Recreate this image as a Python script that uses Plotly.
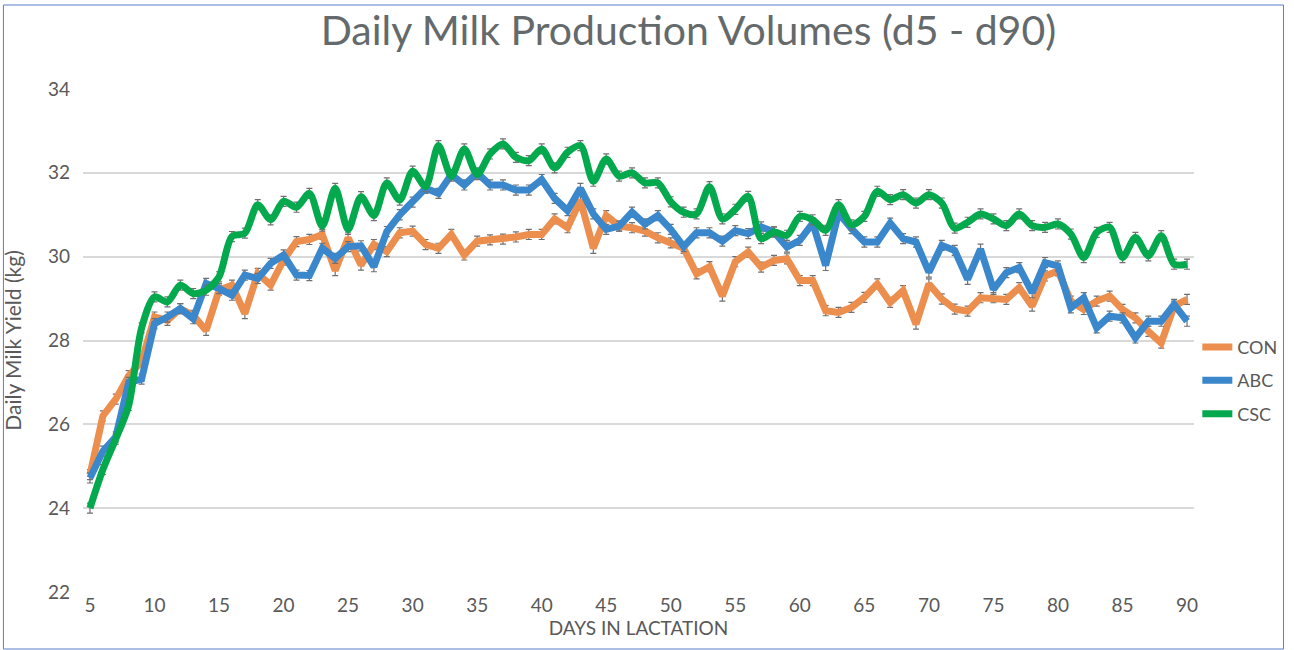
import plotly.graph_objects as go

days = list(range(5, 91))

con = [24.8, 26.2, 26.6, 27.16, 27.5, 28.56, 28.48, 28.76, 28.6, 28.24,
       29.2, 29.32, 28.64, 29.6, 29.32, 29.92, 30.36, 30.41, 30.53, 29.67,
       30.45, 29.8, 30.29, 30.12, 30.57, 30.61, 30.29, 30.2, 30.53, 30.04,
       30.37, 30.4, 30.42, 30.47, 30.53, 30.53, 30.9, 30.69, 31.35, 30.2,
       30.98, 30.73, 30.69, 30.61, 30.45, 30.33, 30.2, 29.59, 29.76, 29.06,
       29.88, 30.11, 29.75, 29.91, 29.95, 29.43, 29.43, 28.71, 28.67, 28.79,
       29.03, 29.35, 28.91, 29.19, 28.39, 29.35, 28.99, 28.75, 28.7, 29.02,
       29.02, 28.98, 29.26, 28.82, 29.54, 29.66, 28.94, 28.74, 28.94, 29.06,
       28.74, 28.54, 28.22, 27.94, 28.82, 28.98]

abc = [24.72, 25.36, 25.7, 27.0, 27.08, 28.4, 28.56, 28.76, 28.52, 29.36,
       29.24, 29.08, 29.56, 29.48, 29.84, 30.04, 29.56, 29.55, 30.2, 29.96,
       30.24, 30.26, 29.76, 30.6, 31.0, 31.3, 31.63, 31.51, 31.96, 31.71,
       32.0, 31.71, 31.71, 31.59, 31.59, 31.84, 31.39, 31.1, 31.63, 31.02,
       30.65, 30.73, 31.06, 30.78, 30.98, 30.65, 30.24, 30.57, 30.57, 30.37,
       30.62, 30.55, 30.71, 30.59, 30.23, 30.39, 30.8, 29.79, 31.04, 30.67,
       30.35, 30.35, 30.8, 30.43, 30.35, 29.63, 30.27, 30.15, 29.46, 30.18,
       29.22, 29.62, 29.74, 29.14, 29.86, 29.78, 28.78, 29.02, 28.3, 28.58,
       28.54, 28.06, 28.46, 28.46, 28.86, 28.46]

csc = [24.0, 24.92, 25.65, 26.45, 28.3, 29.04, 28.92, 29.32, 29.12, 29.2,
       29.52, 30.48, 30.56, 31.24, 30.88, 31.32, 31.18, 31.51, 30.73, 31.63,
       30.65, 31.43, 30.98, 31.76, 31.35, 32.04, 31.67, 32.65, 31.92, 32.57,
       31.96, 32.45, 32.69, 32.37, 32.29, 32.57, 32.12, 32.49, 32.65, 31.8,
       32.33, 31.92, 32.0, 31.76, 31.76, 31.31, 31.06, 31.02, 31.67, 30.9,
       31.13, 31.44, 30.43, 30.59, 30.51, 30.96, 30.88, 30.63, 31.24, 30.76,
       30.96, 31.56, 31.36, 31.48, 31.28, 31.48, 31.28, 30.68, 30.82, 31.02,
       30.9, 30.74, 31.02, 30.74, 30.7, 30.78, 30.54, 29.98, 30.58, 30.7,
       29.98, 30.46, 30.02, 30.5, 29.82, 29.82]

sem = 0.12
x_ticks = list(range(5, 91, 5))
y_ticks = [22, 24, 26, 28, 30, 32, 34]

series = [
    ("CON", con, "#EC8F4E", "linear"),
    ("ABC", abc, "#3A87CB", "linear"),
    ("CSC", csc, "#03A94C", "spline"),
]

FONT = "Lato"
GREY = "#595959"

fig = go.Figure()
for name, vals, color, shape in series:
    fig.add_trace(go.Scatter(
        x=days, y=vals, name=name, mode="lines", legendgroup=name,
        line=dict(color=color, width=7, shape=shape, smoothing=0.8),
        error_y=dict(type="constant", value=sem, color="#707070",
                     thickness=1.2, width=3),
    ))

fig.update_layout(
    width=1294, height=650,
    margin=dict(l=83, r=94, t=89, b=58),
    paper_bgcolor="white", plot_bgcolor="white",
    font=dict(family=FONT, color=GREY, size=18),
    title=dict(text="Daily Milk Production Volumes (d5 - d90)",
               x=0.532, xanchor="center", y=0.953, yanchor="middle",
               font=dict(size=41, color="#646A6C", family=FONT)),
    showlegend=True,
    legend=dict(x=1.003, xanchor="left", y=0.42, yanchor="middle",
                font=dict(size=18, color=GREY), tracegroupgap=7,
                bgcolor="rgba(0,0,0,0)"),
    xaxis=dict(range=[4.46, 90.54], tickmode="array", tickvals=x_ticks,
               showgrid=False, zeroline=False, showline=False,
               ticks="", tickfont=dict(size=19, color=GREY),
               title=dict(text="DAYS IN LACTATION", standoff=3,
                          font=dict(size=19, color=GREY))),
    yaxis=dict(range=[22, 34], tickmode="array", tickvals=y_ticks,
               showgrid=True, gridcolor="#D9D9D9", gridwidth=1.5,
               zeroline=False, showline=False, ticks="",
               ticklabelstandoff=12,
               tickfont=dict(size=19, color=GREY),
               title=dict(text="Daily Milk Yield (kg)", standoff=20,
                          font=dict(size=21, color=GREY))),
    shapes=[dict(type="rect", xref="paper", yref="paper",
                 x0=(3 - 83) / 1117, x1=(1290 - 83) / 1117,
                 y0=(592 - 649) / 503, y1=1 + (89 - 5) / 503,
                 line=dict(color="#5B7FC7", width=1), layer="below")],
)

fig.write_html("out.html")
